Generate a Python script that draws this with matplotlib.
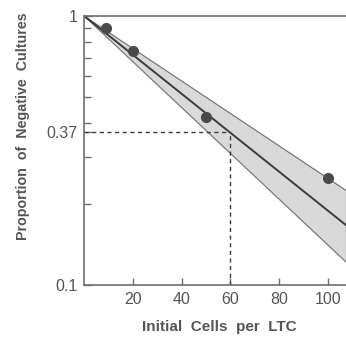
import numpy as np
import matplotlib
matplotlib.use("Agg")
import matplotlib.pyplot as plt
from matplotlib.ticker import FixedLocator, NullFormatter

plt.rcParams['font.family'] = ['Liberation Sans', 'DejaVu Sans']

# observed points
cells = [9, 20, 50, 100]
neg_frac = [0.90, 0.74, 0.42, 0.25]

# fitted line and confidence band (exp(-x/a))
fit_a = 60.0
upper_a = 72.0
lower_a = 51.0
x_end = 107.4

yticks = [0.1, 0.37, 1]
yticklabels = ["0.1", "0.37", "1"]
xticks = [20, 40, 60, 80, 100]
minor_y = [0.2, 0.3, 0.4, 0.5, 0.6, 0.7, 0.8, 0.9]

grey = "#6e6e6e"
dark = "#3c3c3c"
txt = "#555555"

fig = plt.figure(figsize=(3.46, 3.38), dpi=100)
ax = fig.add_axes([0.2435, 0.1568, 0.7565, 0.7959])

x = np.linspace(0, x_end, 200)
ax.fill_between(x, np.exp(-x / upper_a), np.exp(-x / lower_a), facecolor="#d9d9d9",
                edgecolor="#7a7a7a", linewidth=0.9, zorder=1)
ax.plot(x, np.exp(-x / fit_a), color=dark, lw=1.4, zorder=2)
ax.plot(cells, neg_frac, "o", color="#4a4a4a", ms=7, zorder=3)

# 37% read-off
ax.plot([0, fit_a], [0.37, 0.37], color=dark, lw=1.0, ls=(0, (3, 2.5)), zorder=2)
ax.plot([fit_a, fit_a], [0.1, 0.37], color=dark, lw=1.0, ls=(0, (3, 2.5)), zorder=2)

ax.set_yscale("log")
ax.set_xlim(0, x_end)
ax.set_ylim(0.1, 1)
ax.set_yticks(yticks)
ax.set_yticklabels(yticklabels)
ax.yaxis.set_minor_locator(FixedLocator(minor_y))
ax.yaxis.set_minor_formatter(NullFormatter())
ax.set_xticks(xticks)

ax.tick_params(axis="both", which="both", direction="in", color=grey, width=1.0,
               labelsize=11.5, labelcolor=txt)
ax.tick_params(axis="y", which="major", length=6, pad=5)
ax.tick_params(axis="y", which="minor", length=5)
ax.tick_params(axis="x", which="major", length=5, pad=5)

ax.spines["right"].set_visible(False)
for s in ["left", "bottom", "top"]:
    ax.spines[s].set_color(grey)
    ax.spines[s].set_linewidth(1.2)

ax.set_xlabel("Initial  Cells  per  LTC", fontsize=11, fontweight="bold", color=txt,
              va="center")
ax.set_ylabel("Proportion  of  Negative  Cultures", fontsize=10.3, fontweight="bold",
              color=txt, va="center")
ax.xaxis.set_label_coords(0.515, -0.156)
ax.yaxis.set_label_coords(-0.234, 0.591)

fig.savefig("out.png", dpi=100)
